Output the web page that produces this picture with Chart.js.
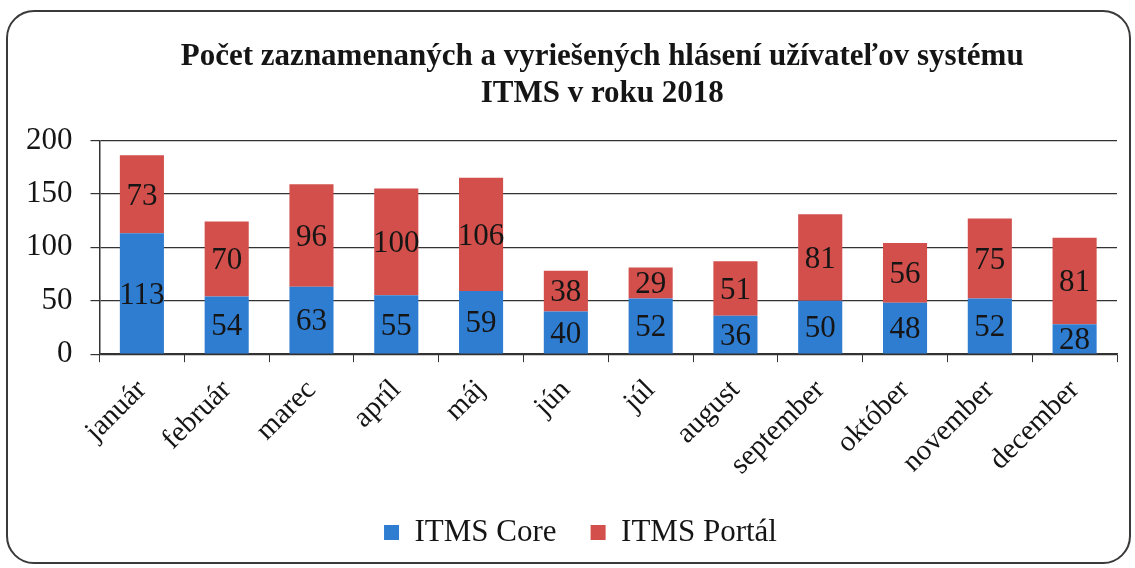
<!DOCTYPE html>
<html>
<head>
<meta charset="utf-8">
<script src="https://cdn.jsdelivr.net/npm/chart.js@4/dist/chart.umd.min.js"></script>
<style>
  html, body { margin: 0; padding: 0; background: #fff; }
  #frame {
    position: absolute; left: 6px; top: 10px; width: 1125px; height: 554px;
    border: 2px solid #3a3a3a; border-radius: 28px; box-sizing: border-box;
  }
  #wrap { position: absolute; left: 0; top: 0; width: 1135px; height: 568px; }
</style>
</head>
<body>
<div id="frame"></div>
<div id="wrap"><canvas id="data-chart"></canvas></div>
<script>
const months = ['január', 'február', 'marec', 'apríl', 'máj', 'jún', 'júl', 'august', 'september', 'október', 'november', 'december'];
const coreValues = [113, 54, 63, 55, 59, 40, 52, 36, 50, 48, 52, 28];
const portalValues = [73, 70, 96, 100, 106, 38, 29, 51, 81, 56, 75, 81];
const yTicks = [0, 50, 100, 150, 200];

const serif = '"Liberation Serif", "Times New Roman", serif';
const ink = '#151515';

// writes each value in the middle of its bar segment
const segmentLabels = {
    id: 'segmentLabels',
    afterDatasetsDraw(chart) {
        const ctx = chart.ctx;
        ctx.save();
        ctx.font = '31px ' + serif;
        ctx.fillStyle = ink;
        ctx.textAlign = 'center';
        ctx.textBaseline = 'middle';
        chart.data.datasets.forEach((ds, i) => {
            chart.getDatasetMeta(i).data.forEach((bar, j) => {
                const y = (bar.y + bar.base) / 2;
                ctx.fillText(ds.data[j], bar.x, y + 2);
            });
        });
        ctx.restore();
    }
};

// title centred over the plot area, legend nudged right like the original
const shiftBlocks = {
    id: 'shiftBlocks',
    afterLayout(chart) {
        if (chart.titleBlock) {
            chart.titleBlock.left = chart.chartArea.left - 6;
            chart.titleBlock.right = chart.chartArea.right - 6;
        }
        if (chart.legend) {
            chart.legend.left += 18;
            chart.legend.right += 18;
        }
    }
};

const ctx = document.getElementById('data-chart').getContext('2d');
const chart = new Chart(ctx, {
    type: 'bar',
    data: {
        labels: months,
        datasets: [{
            label: 'ITMS Core',
            data: coreValues,
            backgroundColor: '#2f7dd1',
            borderWidth: 0
        }, {
            label: 'ITMS Portál',
            data: portalValues,
            backgroundColor: '#d24f4b',
            borderWidth: 0
        }]
    },
    options: {
        responsive: true,
        maintainAspectRatio: false,
        animation: false,
        layout: { padding: { left: 8, right: 18, top: 0, bottom: 10 } },
        datasets: { bar: { categoryPercentage: 1, barPercentage: 0.52 } },
        plugins: {
            title: {
                display: true,
                text: ['Počet zaznamenaných a vyriešených hlásení užívateľov systému', 'ITMS v roku 2018'],
                font: { family: serif, size: 31, weight: 'bold', lineHeight: 1.2 },
                color: ink,
                padding: { top: 38, bottom: 28 }
            },
            legend: {
                position: 'bottom',
                labels: {
                    font: { family: serif, size: 31 },
                    color: ink,
                    boxWidth: 15,
                    boxHeight: 15,
                    padding: 34
                }
            },
            tooltip: { enabled: false }
        },
        scales: {
            x: {
                stacked: true,
                grid: { drawOnChartArea: false, drawTicks: true, tickLength: 8, color: '#333' },
                border: { color: '#333', width: 1.5 },
                afterFit: axis => { axis.height -= 10; },
                ticks: {
                    font: { family: serif, size: 29 },
                    color: ink,
                    minRotation: 45,
                    maxRotation: 45,
                    padding: 11
                }
            },
            y: {
                stacked: true,
                min: yTicks[0],
                max: yTicks[yTicks.length - 1],
                afterBuildTicks: axis => { axis.ticks = yTicks.map(v => ({ value: v })); },
                grid: { color: '#333', lineWidth: 1.2, tickLength: 9 },
                border: { color: '#333', width: 1.5 },
                ticks: {
                    font: { family: serif, size: 31 },
                    color: ink,
                    padding: 18
                }
            }
        }
    },
    plugins: [segmentLabels, shiftBlocks]
});
</script>
</body>
</html>
